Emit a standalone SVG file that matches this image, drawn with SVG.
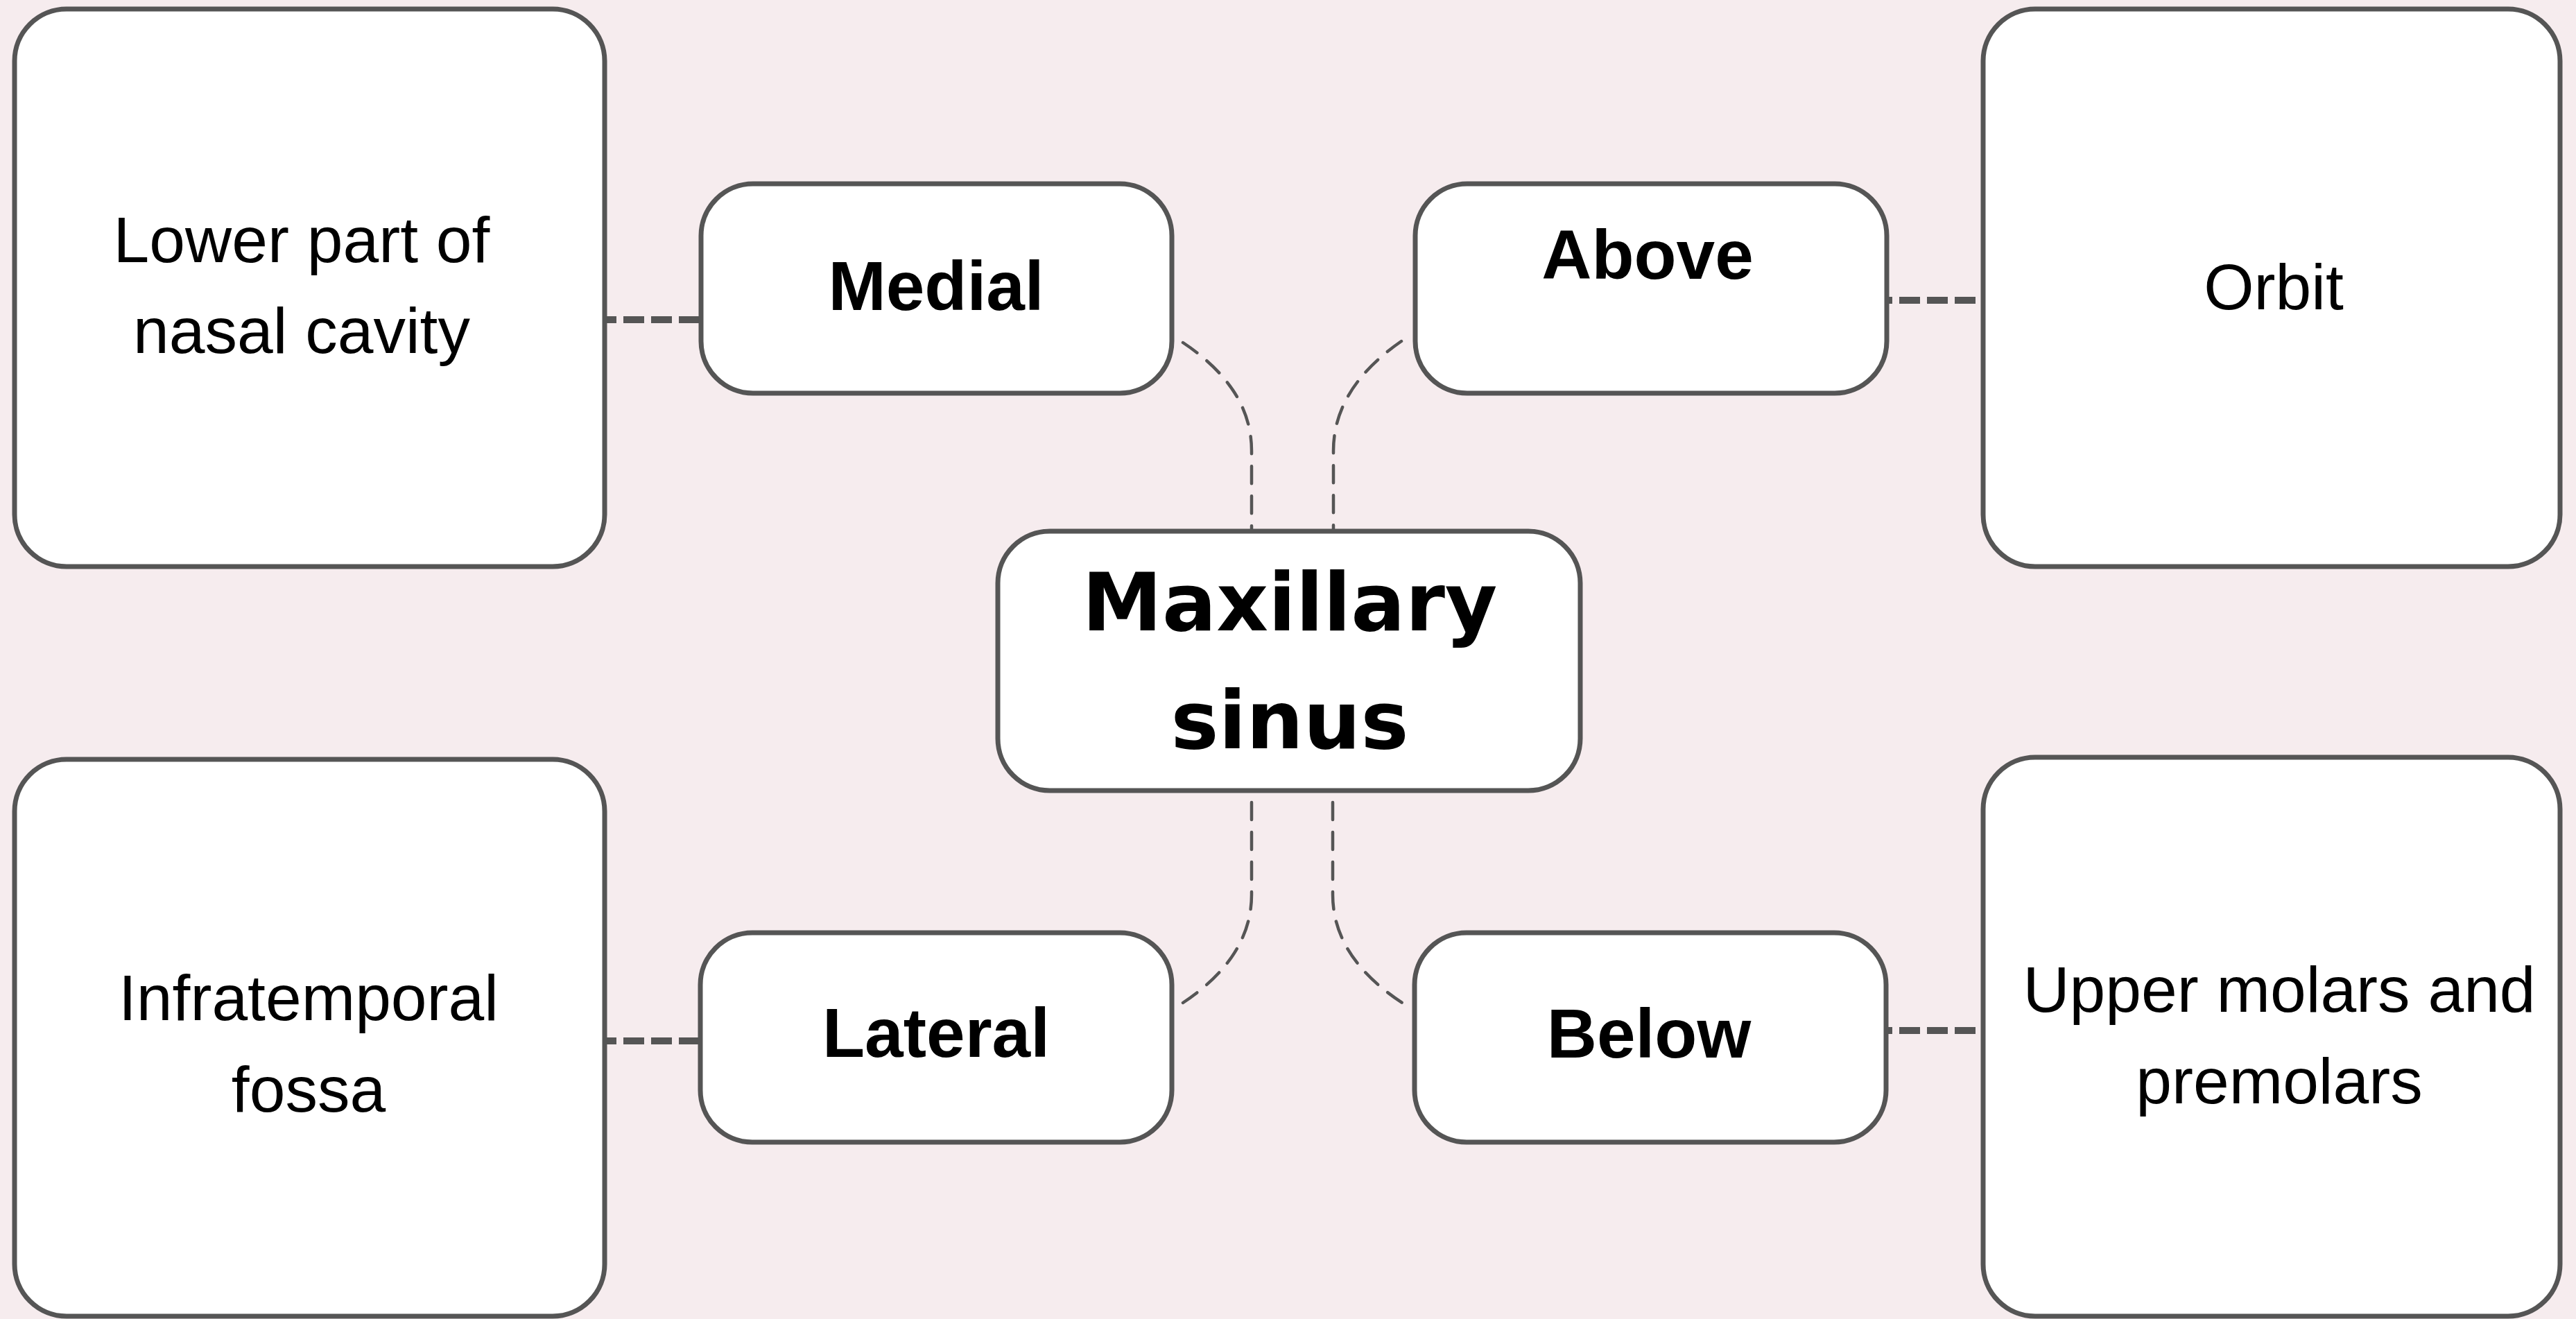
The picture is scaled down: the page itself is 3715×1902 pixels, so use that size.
<svg xmlns="http://www.w3.org/2000/svg" width="3715" height="1902" viewBox="0 0 3715 1902">
<style>
.box{fill:#ffffff;stroke:#555555;stroke-width:7}
.thick{fill:none;stroke:#555555;stroke-width:10;stroke-dasharray:30 10}
.thin{fill:none;stroke:#555555;stroke-width:4.5;stroke-dasharray:25 18;stroke-linecap:round}
.reg{font-family:"Liberation Sans",Arial,sans-serif;font-size:93px;fill:#000;text-anchor:middle}
.lbl{font-family:"Liberation Sans",Arial,sans-serif;font-size:100px;font-weight:bold;fill:#000;text-anchor:middle}
.main{font-family:"DejaVu Sans","Liberation Sans",sans-serif;font-size:116px;font-weight:bold;fill:#000;text-anchor:middle}
</style>
<rect x="0" y="0" width="3715" height="1902" fill="#f6ecee"/>
<g id="connectors">
<line class="thick" x1="859" y1="461" x2="1010" y2="461"/>
<line class="thick" x1="2699" y1="433" x2="2860" y2="433"/>
<line class="thick" x1="859" y1="1501" x2="1010" y2="1501"/>
<line class="thick" x1="2699" y1="1486" x2="2860" y2="1486"/>
<path class="thin" d="M1706,494 Q1805,560 1805,650 L1805,766"/>
<path class="thin" d="M2021,492 Q1923,560 1923,650 L1923,766"/>
<path class="thin" d="M1805,1157 L1805,1290 Q1805,1380 1706,1446"/>
<path class="thin" d="M1922,1157 L1922,1290 Q1922,1380 2022,1446"/>
</g>
<g id="node-nasal">
<rect class="box" x="21" y="13" width="851" height="804" rx="75"/>
<text class="reg" x="435" y="378">Lower part of</text>
<text class="reg" x="435" y="509">nasal cavity</text>
</g>
<g id="node-infratemporal">
<rect class="box" x="21" y="1095" width="851" height="803" rx="75"/>
<text class="reg" x="445" y="1471">Infratemporal</text>
<text class="reg" x="445" y="1603">fossa</text>
</g>
<g id="node-orbit">
<rect class="box" x="2860" y="13" width="832" height="804" rx="75"/>
<text class="reg" x="3279" y="446">Orbit</text>
</g>
<g id="node-molars">
<rect class="box" x="2860" y="1092" width="832" height="806" rx="75"/>
<text class="reg" x="3287" y="1459">Upper molars and</text>
<text class="reg" x="3287" y="1591">premolars</text>
</g>
<g id="node-medial">
<rect class="box" x="1011" y="265" width="679" height="302" rx="75"/>
<text class="lbl" x="1350" y="447">Medial</text>
</g>
<g id="node-above">
<rect class="box" x="2041" y="265" width="680" height="302" rx="75"/>
<text class="lbl" x="2376" y="402">Above</text>
</g>
<g id="node-lateral">
<rect class="box" x="1010" y="1345" width="680" height="302" rx="75"/>
<text class="lbl" x="1350" y="1524">Lateral</text>
</g>
<g id="node-below">
<rect class="box" x="2040" y="1345" width="680" height="302" rx="75"/>
<text class="lbl" x="2378" y="1525">Below</text>
</g>
<g id="node-maxillary">
<rect class="box" x="1439" y="766" width="840" height="374" rx="75"/>
<text class="main" x="1860" y="909">Maxillary</text>
<text class="main" x="1860" y="1079">sinus</text>
</g>
</svg>
